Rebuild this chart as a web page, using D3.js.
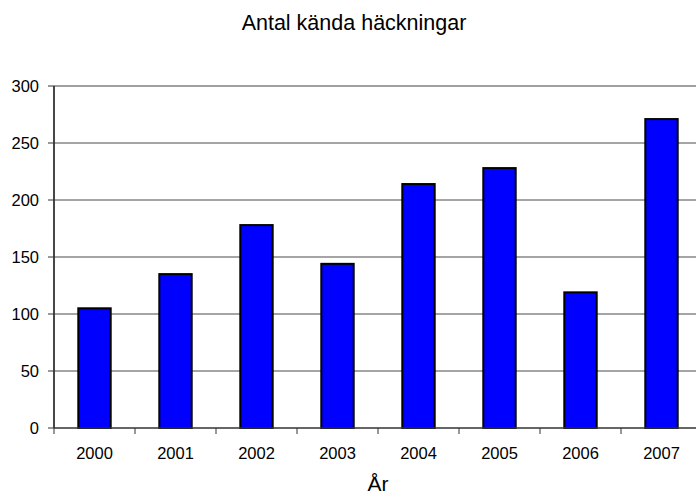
<!DOCTYPE html>
<html>
<head>
<meta charset="utf-8">
<script src="https://cdn.jsdelivr.net/npm/d3@7"></script>
<style>
  body { margin: 0; background: #fff; }
  text { font-family: "Liberation Sans", Arial, sans-serif; fill: #000; }
</style>
</head>
<body>
<script>
const years = ["2000", "2001", "2002", "2003", "2004", "2005", "2006", "2007"];
const counts = [105, 135, 178, 144, 214, 228, 119, 271];
const yTicks = [0, 50, 100, 150, 200, 250, 300];

const title = "Antal kända häckningar";
const xTitle = "År";

const width = 696, height = 495;
// plot area runs a bit past the right edge, like the source image
const margin = { left: 54, top: 86, plotW: 648, plotH: 342 };

const svg = d3.select("body").append("svg")
  .attr("width", width)
  .attr("height", height);

const x = d3.scaleBand()
  .domain(years)
  .range([margin.left, margin.left + margin.plotW])
  .paddingInner(0.6)
  .paddingOuter(0.3);

const y = d3.scaleLinear()
  .domain([0, 300])
  .range([margin.top + margin.plotH, margin.top]);

const x0 = margin.left, x1 = margin.left + margin.plotW;

/* gridlines */
svg.append("g")
  .selectAll("line")
  .data(yTicks.filter(d => d > 0))
  .enter().append("line")
    .attr("x1", x0).attr("x2", x1)
    .attr("y1", d => y(d)).attr("y2", d => y(d))
    .attr("stroke", d => d === 300 ? "#808080" : "#4a4a4a")
    .attr("stroke-width", d => d === 300 ? 1.5 : 1);

/* bars */
svg.append("g")
  .selectAll("rect")
  .data(years.map((c, i) => ({ c, v: counts[i] })))
  .enter().append("rect")
    .attr("x", d => x(d.c))
    .attr("y", d => y(d.v))
    .attr("width", x.bandwidth())
    .attr("height", d => y(0) - y(d.v))
    .attr("fill", "#0000ff")
    .attr("stroke", "#000")
    .attr("stroke-width", 2);

/* y axis */
const yAxis = svg.append("g");
yAxis.append("line")
  .attr("x1", x0).attr("x2", x0)
  .attr("y1", y(300)).attr("y2", y(0))
  .attr("stroke", "#333").attr("stroke-width", 1.8);
yAxis.selectAll(".tk")
  .data(yTicks)
  .enter().append("line")
    .attr("x1", x0 - 6).attr("x2", x0)
    .attr("y1", d => y(d)).attr("y2", d => y(d))
    .attr("stroke", "#333").attr("stroke-width", 1);
yAxis.selectAll("text")
  .data(yTicks)
  .enter().append("text")
    .attr("x", 39)
    .attr("y", d => y(d))
    .attr("dy", "0.36em")
    .attr("text-anchor", "end")
    .style("font-size", "16.5px")
    .text(d => d);

/* x axis */
const xAxis = svg.append("g");
xAxis.append("line")
  .attr("x1", x0).attr("x2", x1)
  .attr("y1", y(0)).attr("y2", y(0))
  .attr("stroke", "#333").attr("stroke-width", 1.5);
xAxis.selectAll(".tk")
  .data(d3.range(years.length + 1))
  .enter().append("line")
    .attr("x1", i => x0 + i * x.step()).attr("x2", i => x0 + i * x.step())
    .attr("y1", y(0)).attr("y2", y(0) + 6)
    .attr("stroke", "#333").attr("stroke-width", 1);
xAxis.selectAll("text")
  .data(years)
  .enter().append("text")
    .attr("x", d => x(d) + x.bandwidth() / 2)
    .attr("y", 459)
    .attr("text-anchor", "middle")
    .style("font-size", "16.5px")
    .text(d => d);

svg.append("text")
  .attr("x", 354).attr("y", 30)
  .attr("text-anchor", "middle")
  .style("font-size", "21.5px")
  .text(title);

svg.append("text")
  .attr("x", (x0 + x1) / 2).attr("y", 491)
  .attr("text-anchor", "middle")
  .style("font-size", "21px")
  .text(xTitle);
</script>
</body>
</html>
